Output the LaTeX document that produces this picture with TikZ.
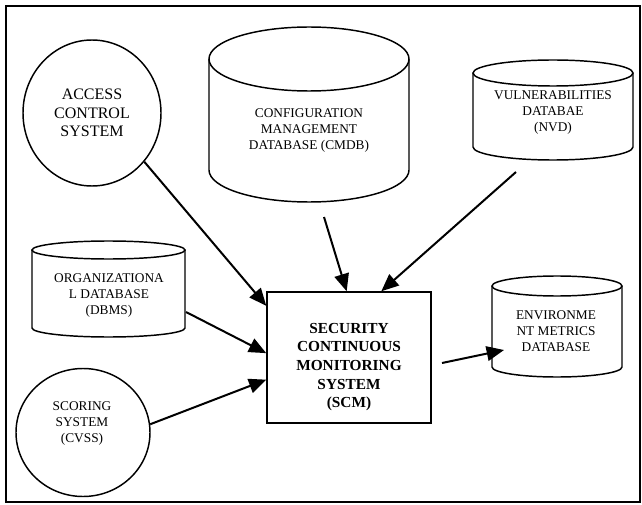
\documentclass[tikz,border=0pt]{standalone}
\usepackage{fontspec}
\setmainfont{Liberation Serif}
\usetikzlibrary{arrows.meta,shapes.geometric}

\begin{document}
\begin{tikzpicture}[x=0.75pt,y=0.75pt,>={Triangle[length=13pt,width=11pt]},
  shp/.style={draw,line width=1.1pt},
  flow/.style={->,line width=1.5pt},
  dbtxt/.style={align=center,inner sep=0pt,font=\fontsize{10}{12}\selectfont}]
\useasboundingbox (0,0) rectangle (642,504);
\draw[line width=1.3pt] (6,2) rectangle (640,498);
% access control system
\node[shp,ellipse,inner sep=0pt,minimum width=103.5pt,minimum height=109.5pt,align=center,font=\fontsize{12}{14}\selectfont] (acs) at (92,391) {ACCESS\\CONTROL\\SYSTEM};
% configuration management db
\draw[shp] (309,445) ellipse [x radius=100,y radius=32];
\draw[shp] (209,445) -- (209,334) arc[start angle=180,end angle=360,x radius=100,y radius=32] -- (409,445);
\node[dbtxt] (cmdb) at (309,373) {CONFIGURATION\\MANAGEMENT\\DATABASE (CMDB)};
\coordinate (cmdbout) at (324,287);
% vulnerabilities db
\draw[shp] (553,431) ellipse [x radius=80,y radius=13];
\draw[shp] (473,431) -- (473,357) arc[start angle=180,end angle=360,x radius=80,y radius=13] -- (633,431);
\node[dbtxt] (nvd) at (553,391) {VULNERABILITIES\\DATABAE\\(NVD)};
\coordinate (nvdout) at (516,332);
% organizational db
\draw[shp] (108.5,254) ellipse [x radius=76.5,y radius=9];
\draw[shp] (32,254) -- (32,176) arc[start angle=180,end angle=360,x radius=76.5,y radius=9] -- (185,254);
\node[dbtxt] (org) at (109,208) {ORGANIZATIONA\\L DATABASE\\(DBMS)};
\coordinate (orgout) at (186,192);
% scoring system
\node[shp,ellipse,minimum width=100.5pt,minimum height=96pt] (cvss) at (83,71.5) {};
\node[dbtxt] (cvsstxt) at (82,80) {SCORING\\SYSTEM\\(CVSS)};
% monitoring system
\node[shp,rectangle,minimum width=123pt,minimum height=98.25pt] (scm) at (349,146.5) {};
\node[align=center,inner sep=0pt,font=\fontsize{11.5}{14}\selectfont\bfseries] (scmtxt) at (349,137) {SECURITY\\CONTINUOUS\\MONITORING\\SYSTEM\\(SCM)};
\coordinate (scmout) at (442,141);
% environment metrics db
\draw[shp] (557,218) ellipse [x radius=65,y radius=10];
\draw[shp] (492,218) -- (492,137) arc[start angle=180,end angle=360,x radius=65,y radius=10] -- (622,218);
\node[dbtxt] (env) at (556,173) {ENVIRONME\\NT METRICS\\DATABASE};
\coordinate (envin) at (504,154);
% arrows
\draw[flow] (acs.-43) -- (scm.148);
\draw[flow] (cmdbout) -- (scm.92);
\draw[flow] (nvdout) -- (scm.64);
\draw[flow] (orgout) -- (scm.177);
\draw[flow] (cvss.7) -- (scm.195);
\draw[flow] (scmout) -- (envin);
\end{tikzpicture}
\end{document}
